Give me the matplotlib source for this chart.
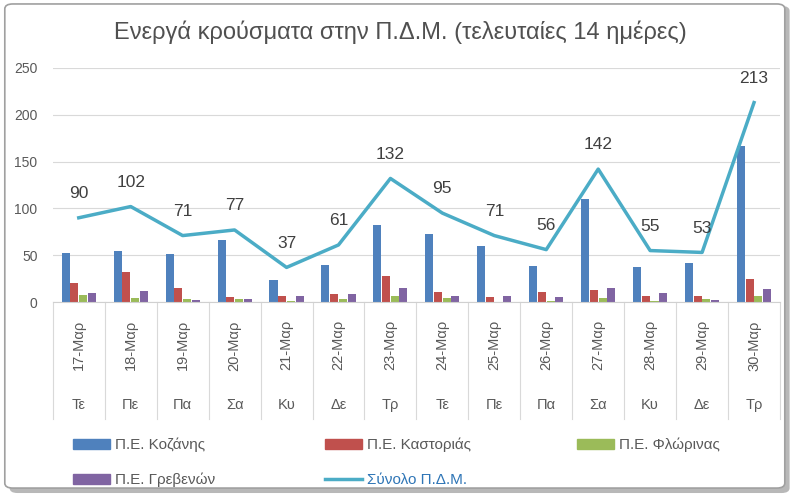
import numpy as np
import matplotlib.pyplot as plt
from matplotlib.patches import FancyBboxPatch, Patch
from matplotlib.lines import Line2D

plt.rcParams['font.family'] = ['Liberation Sans', 'DejaVu Sans']

# data
dates = ['17-Μαρ', '18-Μαρ', '19-Μαρ', '20-Μαρ', '21-Μαρ', '22-Μαρ', '23-Μαρ',
         '24-Μαρ', '25-Μαρ', '26-Μαρ', '27-Μαρ', '28-Μαρ', '29-Μαρ', '30-Μαρ']
days = ['Τε', 'Πε', 'Πα', 'Σα', 'Κυ', 'Δε', 'Τρ', 'Τε', 'Πε', 'Πα', 'Σα', 'Κυ', 'Δε', 'Τρ']
kozani = [52, 54, 51, 66, 24, 40, 82, 73, 60, 39, 110, 37, 42, 167]
kastoria = [20, 32, 15, 5, 6, 9, 28, 11, 5, 11, 13, 7, 6, 25]
florina = [8, 4, 3, 3, 1, 3, 7, 4, 0, 1, 4, 1, 3, 7]
grevena = [10, 12, 2, 3, 6, 9, 15, 7, 6, 5, 15, 10, 2, 14]
total = [90, 102, 71, 77, 37, 61, 132, 95, 71, 56, 142, 55, 53, 213]

series = [('Π.Ε. Κοζάνης', kozani, '#4F81BD'),
          ('Π.Ε. Καστοριάς', kastoria, '#C0504D'),
          ('Π.Ε. Φλώρινας', florina, '#9BBB59'),
          ('Π.Ε. Γρεβενών', grevena, '#8064A2')]
line_color = '#4BACC6'

fig = plt.figure(figsize=(8, 4.96), dpi=100)
ax = fig.add_axes([0.066, 0.391, 0.909, 0.472])

# outer frame with shadow
fig.patches.append(FancyBboxPatch((0.012, 0.006), 0.975, 0.982, boxstyle='round,pad=0,rounding_size=0.01',
                                  transform=fig.transFigure, facecolor='#b8b8b8', edgecolor='none', zorder=-3))
fig.patches.append(FancyBboxPatch((0.006, 0.016), 0.975, 0.976, boxstyle='round,pad=0,rounding_size=0.01',
                                  transform=fig.transFigure, facecolor='white', edgecolor='#a0a0a0',
                                  linewidth=1.2, zorder=-2))

x = np.arange(len(dates))
w = 0.155
offs = [-1.5, -0.5, 0.5, 1.5]
for (name, vals, col), o in zip(series, offs):
    ax.bar(x + o * w * 1.08, vals, width=w, color=col, zorder=2)

ax.plot(x, total, color=line_color, linewidth=2.5, zorder=3)
for xi, v in zip(x, total):
    ax.annotate(str(v), (xi, v), xytext=(0, 12), textcoords='offset points',
                ha='center', va='bottom', fontsize=12.5, color='#404040')

ax.set_xlim(-0.5, len(dates) - 0.5)
ax.set_ylim(0, 250)
ax.set_yticks(np.arange(0, 251, 50))
ax.tick_params(axis='y', length=0, labelsize=10, colors='#595959', pad=11)
ax.set_xticks([])
ax.grid(axis='y', color='#d9d9d9', linewidth=0.8, zorder=0)
for s in ['top', 'right', 'left']:
    ax.spines[s].set_visible(False)
ax.spines['bottom'].set_color('#d0d0d0')

# multi-level category axis
tr = ax.get_xaxis_transform()
for b in np.arange(-0.5, len(dates), 1.0):
    ax.plot([b, b], [0, -0.5], transform=tr, color='#d9d9d9', linewidth=0.8, clip_on=False)
for xi, d, dy in zip(x, dates, days):
    ax.text(xi, -0.185, d, transform=tr, rotation=90, ha='center', va='center',
            fontsize=10.5, color='#595959')
    ax.text(xi, -0.44, dy, transform=tr, ha='center', va='center',
            fontsize=10.5, color='#595959')

fig.text(0.5, 0.935, 'Ενεργά κρούσματα στην Π.Δ.Μ. (τελευταίες 14 ημέρες)',
         ha='center', va='center', fontsize=17, color='#505050')

# legend
handles = [Patch(color=c) for _, _, c in series] + [Line2D([], [], color=line_color, linewidth=2.5)]
labels = [n for n, _, _ in series] + ['Σύνολο Π.Δ.Μ.']
pos = [(0.09, 0.103), (0.405, 0.103), (0.72, 0.103), (0.09, 0.032), (0.405, 0.032)]
for h, l, (px, py) in zip(handles, labels, pos):
    lg = fig.legend([h], [l], loc='center left', bbox_to_anchor=(px - 0.006, py), frameon=False,
                    fontsize=11, handlelength=2.4, handleheight=0.6, handletextpad=0.3, borderaxespad=0)
    if l.startswith('Σύνολο'):
        lg.get_texts()[0].set_color('#2E75B6')
    else:
        lg.get_texts()[0].set_color('#595959')

fig.savefig('out.png', dpi=100)
